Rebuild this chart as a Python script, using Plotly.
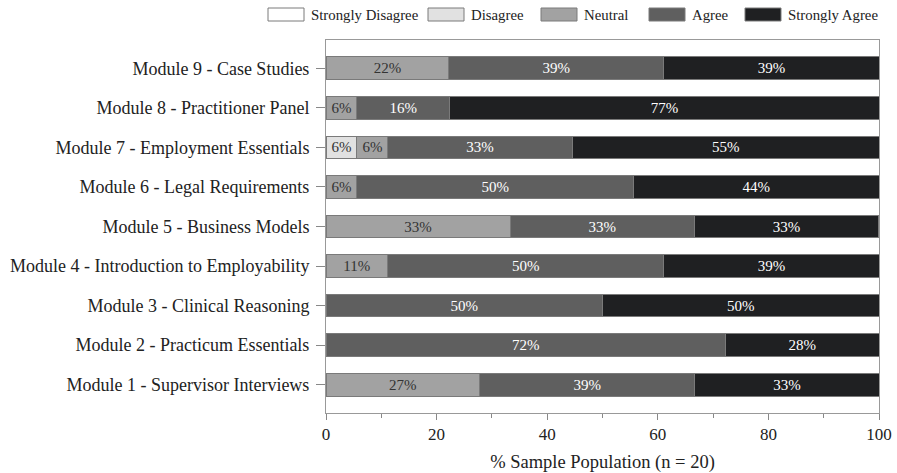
import plotly.graph_objects as go

modules = [
    "Module 1 - Supervisor Interviews",
    "Module 2 - Practicum Essentials",
    "Module 3 - Clinical Reasoning",
    "Module 4 - Introduction to Employability",
    "Module 5 - Business Models",
    "Module 6 - Legal Requirements",
    "Module 7 - Employment Essentials",
    "Module 8 - Practitioner Panel",
    "Module 9 - Case Studies",
]

strongly_disagree = [0, 0, 0, 0, 0, 0, 0, 0, 0]
disagree = [0, 0, 0, 0, 0, 0, 5.6, 0, 0]
neutral = [27.8, 0, 0, 11.1, 33.3, 5.6, 5.6, 5.6, 22.2]
agree = [38.9, 72.2, 50.0, 50.0, 33.3, 50.0, 33.3, 16.7, 38.9]
strongly_agree = [33.3, 27.8, 50.0, 38.9, 33.3, 44.4, 55.6, 77.8, 38.9]

sd_labels = ["", "", "", "", "", "", "", "", ""]
d_labels = ["", "", "", "", "", "", "6%", "", ""]
n_labels = ["27%", "", "", "11%", "33%", "6%", "6%", "6%", "22%"]
a_labels = ["39%", "72%", "50%", "50%", "33%", "50%", "33%", "16%", "39%"]
sa_labels = ["33%", "28%", "50%", "39%", "33%", "44%", "55%", "77%", "39%"]

series = [
    ("Strongly Disagree", strongly_disagree, sd_labels, "#ffffff", "#333333"),
    ("Disagree", disagree, d_labels, "#e1e1e1", "#333333"),
    ("Neutral", neutral, n_labels, "#a2a2a2", "#333333"),
    ("Agree", agree, a_labels, "#5f5f5f", "#ffffff"),
    ("Strongly Agree", strongly_agree, sa_labels, "#1f2022", "#ffffff"),
]

FONT = "Liberation Serif, Times New Roman, serif"

fig = go.Figure()
for name, vals, labels, color, tcolor in series:
    fig.add_trace(go.Bar(
        name=name,
        y=modules,
        x=vals,
        orientation="h",
        text=labels,
        textposition="inside",
        insidetextanchor="middle",
        textangle=0,
        constraintext="none",
        textfont=dict(family=FONT, size=15, color=tcolor),
        marker=dict(color=color, line=dict(color="#7a7a7a", width=1)),
        width=0.58,
        showlegend=False,
    ))

# Custom legend (wide rectangular swatches like the reference)
L, W = 326, 553          # plot-area left / width in px
T, H = 40, 373           # plot-area top / height in px
def px_x(px):
    return (px - L) / W
def px_y(py):
    return (T + H - py) / H

legend_box_left = [268, 428, 541, 649, 745]
box_w = 36
shapes = []
annotations = []
for (name, _, _, color, _), bx in zip(series, legend_box_left):
    shapes.append(dict(
        type="rect", xref="paper", yref="paper",
        x0=px_x(bx), x1=px_x(bx + box_w), y0=px_y(21), y1=px_y(8),
        fillcolor=color, line=dict(color="#7a7a7a", width=1),
    ))
    annotations.append(dict(
        xref="paper", yref="paper", x=px_x(bx + box_w + 5), y=px_y(14.5),
        xanchor="left", yanchor="middle", text=name, showarrow=False,
        font=dict(family=FONT, size=14.8, color="#222222"),
    ))

fig.update_layout(
    barmode="stack",
    width=897,
    height=473,
    margin=dict(l=326, r=18, t=40, b=60),
    paper_bgcolor="white",
    plot_bgcolor="white",
    font=dict(family=FONT, size=17, color="#222222"),
    showlegend=False,
    shapes=shapes,
    annotations=annotations,
    xaxis=dict(
        range=[0, 100],
        tickvals=[0, 20, 40, 60, 80, 100],
        ticks="outside",
        ticklen=6,
        tickcolor="#888888",
        showline=True,
        linecolor="#999999",
        linewidth=1,
        mirror=True,
        showgrid=False,
        zeroline=False,
        automargin=False,
        minor=dict(tickvals=[10, 30, 50, 70, 90], ticks="outside", ticklen=4, tickcolor="#888888"),
        title=dict(text="% Sample Population (n = 20)", font=dict(family=FONT, size=18.5), standoff=16),
        tickfont=dict(family=FONT, size=17),
    ),
    yaxis=dict(
        range=[-0.72, 8.72],
        ticks="outside",
        ticklen=9,
        tickcolor="#888888",
        showline=True,
        linecolor="#999999",
        linewidth=1,
        mirror=True,
        showgrid=False,
        automargin=False,
        ticklabelstandoff=3,
        tickfont=dict(family=FONT, size=18),
    ),
)

fig.write_html("out.html")
